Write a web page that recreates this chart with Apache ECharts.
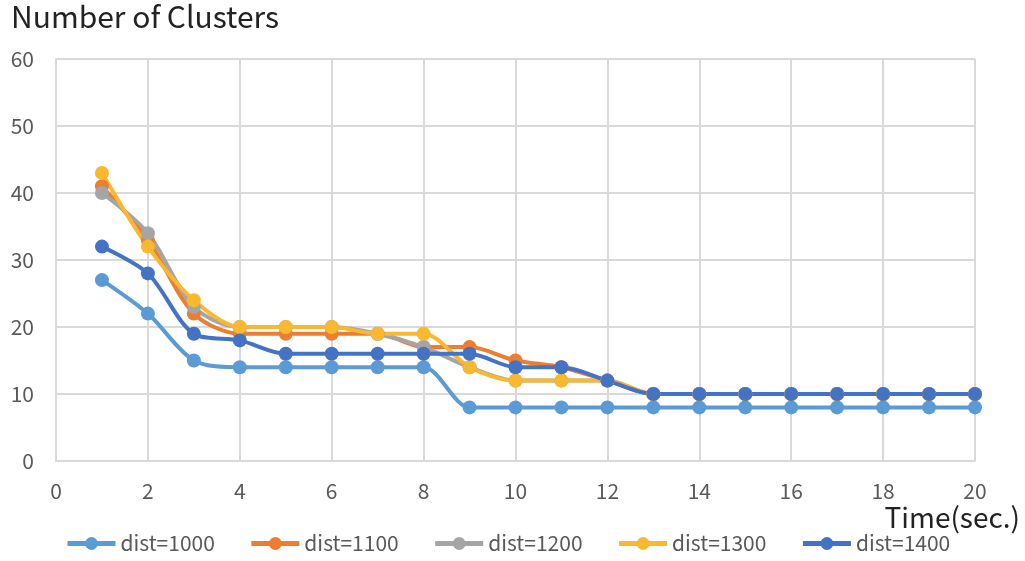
<!DOCTYPE html>
<html><head><meta charset="utf-8">
<script src="https://cdn.jsdelivr.net/npm/echarts@6/dist/echarts.min.js"></script>
<style>html,body{margin:0;padding:0;background:#fff}#c{width:1025px;height:561px}</style>
</head><body><div id="c"></div>
<script>
const times = [1,2,3,4,5,6,7,8,9,10,11,12,13,14,15,16,17,18,19,20];
const dist1000 = [27,22,15,14,14,14,14,14,8,8,8,8,8,8,8,8,8,8,8,8];
const dist1100 = [41,33,22,19,19,19,19,17,17,15,14,12,10,10,10,10,10,10,10,10];
const dist1200 = [40,34,23,20,20,20,19,17,14,12,12,12,10,10,10,10,10,10,10,10];
const dist1300 = [43,32,24,20,20,20,19,19,14,12,12,12,10,10,10,10,10,10,10,10];
const dist1400 = [32,28,19,18,16,16,16,16,16,14,14,12,10,10,10,10,10,10,10,10];
const seriesNames = ['dist=1000','dist=1100','dist=1200','dist=1300','dist=1400'];
const colors = ['#5B9BD5','#ED7D31','#A5A5A5','#F8B830','#4472C4'];
const allData = [dist1000,dist1100,dist1200,dist1300,dist1400];
const font = '"Noto Sans CJK JP", "Noto Sans", sans-serif';

const chart = echarts.init(document.getElementById('c'));
chart.setOption({
  animation:false,
  textStyle:{fontFamily:font},
  title:{text:'Number of Clusters',left:6,top:-3,textStyle:{fontFamily:font,fontSize:30,fontWeight:'normal',color:'#222'}},
  grid:{left:56,right:50,top:59,bottom:100},
  legend:{bottom:2,left:60,itemWidth:48,itemHeight:16,itemGap:34,
    lineStyle:{width:5},
    textStyle:{fontFamily:font,fontSize:21,color:'#595959'},data:seriesNames},
  xAxis:{type:'value',min:0,max:20,interval:2,name:'Time(sec.)',nameLocation:'end',
    nameGap:0,nameTextStyle:{fontFamily:font,fontSize:28,color:'#222',align:'right',verticalAlign:'top',padding:[42,-45,0,0]},
    axisLine:{show:true,lineStyle:{color:'#D9D9D9',width:2}},axisTick:{show:false},
    axisLabel:{fontSize:21,color:'#595959',margin:20,fontFamily:font},
    splitLine:{show:true,lineStyle:{color:'#D9D9D9',width:2}}},
  yAxis:{type:'value',min:0,max:60,interval:10,
    axisLine:{show:true,lineStyle:{color:'#D9D9D9',width:2}},axisTick:{show:false},
    axisLabel:{fontSize:21,color:'#595959',margin:22,fontFamily:font},
    splitLine:{show:true,lineStyle:{color:'#D9D9D9',width:2}}},
  series: allData.map((d,i)=>({
    name:seriesNames[i],type:'line',smooth:0.3,
    data:times.map((t,j)=>[t,d[j]]),
    symbol:'circle',symbolSize:14,
    lineStyle:{width:4,color:colors[i]},
    itemStyle:{color:colors[i]}
  }))
});
</script></body></html>
